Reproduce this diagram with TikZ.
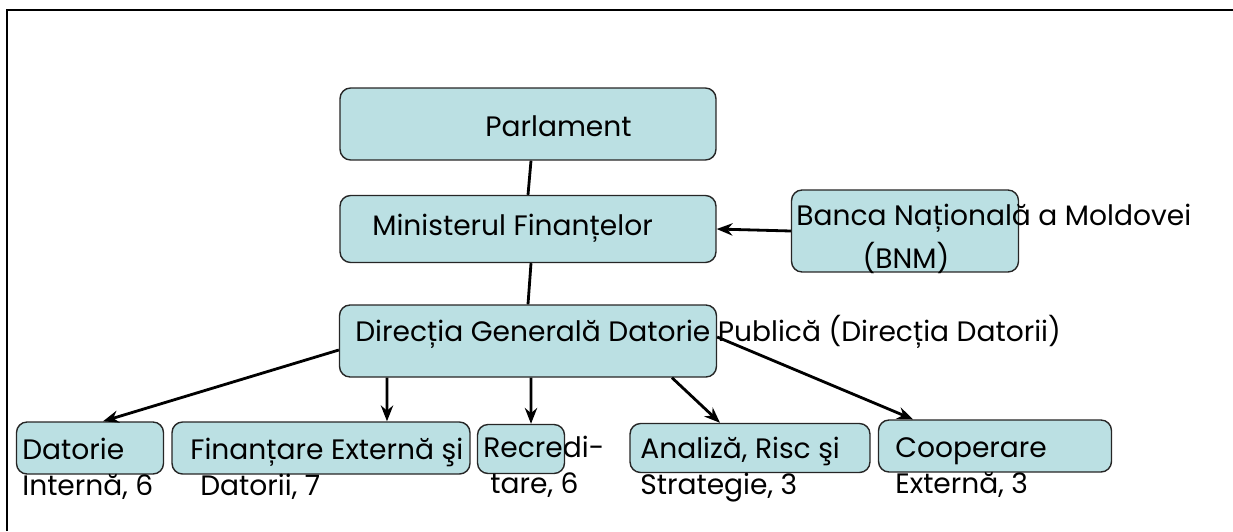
\documentclass[tikz,border=0pt]{standalone}
\usepackage{fontspec}
\setmainfont{Poppins}
\usetikzlibrary{arrows.meta}
\definecolor{boxfill}{RGB}{187,224,227}
\tikzset{
  unit box/.style={draw=black!85, line width=0.8pt, rounded corners=6pt, fill=boxfill, inner sep=0pt},
  label text/.style={anchor=west, inner sep=0pt, align=left, font=\fontsize{16}{20.5}\selectfont},
  link/.style={line width=1.6pt},
  arrow/.style={link, -{Stealth[length=9pt,width=7pt]}}
}
\begin{document}
\begin{tikzpicture}[x=0.02cm,y=-0.02cm]
\useasboundingbox (0,0) rectangle (1233,531);
\draw[line width=1pt] (7,531) -- (7,10) -- (1233,10);
% boxes
\path node[unit box, minimum width=7.52cm, minimum height=1.44cm] (parl) at (528,124) {}
      node[unit box, minimum width=7.52cm, minimum height=1.34cm] (minf) at (528,229) {}
      node[unit box, minimum width=4.54cm, minimum height=1.64cm] (bnm) at (905,231) {}
      node[unit box, minimum width=7.54cm, minimum height=1.44cm] (dgdp) at (528,341) {}
      node[unit box, minimum width=2.94cm, minimum height=1.04cm] (dint) at (90,448) {}
      node[unit box, minimum width=5.96cm, minimum height=1.04cm] (fext) at (321,448) {}
      node[unit box, minimum width=1.74cm, minimum height=0.98cm] (recr) at (521,449) {}
      node[unit box, minimum width=4.80cm, minimum height=0.98cm] (anal) at (750,448) {}
      node[unit box, minimum width=4.66cm, minimum height=1.04cm] (coop) at (995,446) {};
% texts
\path node[label text] (parl-t) at (485,126) {Parlament}
      node[label text] (minf-t) at (372,228) {Ministerul Finanțelor}
      node[label text] (bnm-t) at (796,218) {Banca Națională a Moldovei}
      node[label text, anchor=center] (bnm-t2) at (906,258) {(BNM)}
      node[label text] (dgdp-t) at (355,332) {Direcția Generală Datorie Publică (Direcția Datorii)}
      node[label text] (dint-t) at (22,469) {Datorie\\Internă, 6}
      node[label text] (fext-t) at (190,469) {Finanțare Externă şi\\\hspace*{0.2cm}Datorii, 7}
      node[label text] (recr-t) at (483,467) {Recredi-\\\hspace*{0.14cm}tare, 6}
      node[label text] (anal-t) at (640,470) {Analiză, Risc şi\\Strategie, 3}
      node[label text] (coop-t) at (895,468) {Cooperare\\Externă, 3};
% connectors
\draw[link] ([xshift=0.06cm]parl.south) -- (minf.north);
\draw[link] ([xshift=0.06cm]minf.south) -- (dgdp.north);
\draw[arrow] (bnm.west) -- (minf.east);
\draw[arrow] ([yshift=-0.18cm]dgdp.west) -- ([xshift=0.26cm]dint.north);
\draw[arrow] ([xshift=-2.82cm]dgdp.south) -- ([xshift=1.32cm]fext.north);
\draw[arrow] ([xshift=0.06cm]dgdp.south) -- ([xshift=0.2cm]recr.north);
\draw[arrow] ([xshift=2.88cm]dgdp.south) -- ([xshift=-0.6cm]anal.north);
\draw[arrow] ([yshift=0.08cm]dgdp.east) -- ([xshift=-1.64cm]coop.north);
\end{tikzpicture}
\end{document}
